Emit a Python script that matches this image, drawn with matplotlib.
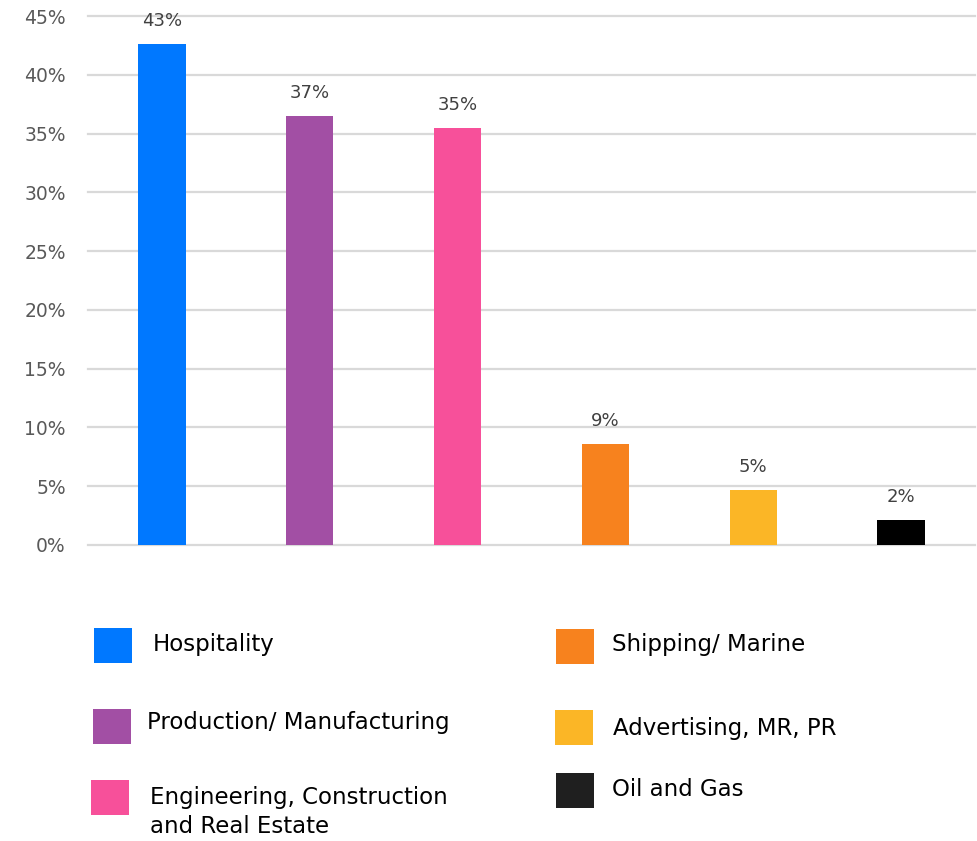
import matplotlib
matplotlib.use("Agg")
import matplotlib.pyplot as plt
from matplotlib.patches import Rectangle
from matplotlib.ticker import FuncFormatter

categories = ["Hospitality", "Production/ Manufacturing", "Engineering, Construction\nand Real Estate",
              "Shipping/ Marine", "Advertising, MR, PR", "Oil and Gas"]
values = [42.6, 36.5, 35.5, 8.6, 4.7, 2.1]
value_labels = ["43%", "37%", "35%", "9%", "5%", "2%"]
colors = ["#0078FF", "#A24FA4", "#F7509A", "#F7821E", "#FBB626", "#000000"]
legend_colors = ["#0078FF", "#A24FA4", "#F7509A", "#F7821E", "#FBB626", "#1F1F1F"]
yticks = [0, 5, 10, 15, 20, 25, 30, 35, 40, 45]

W, H = 977, 841
plt.rcParams['font.family'] = ['DejaVu Sans']
fig = plt.figure(figsize=(W / 100, H / 100), dpi=100)
ax = fig.add_axes([88 / W, (H - 545) / H, 887 / W, 529 / H])

x = list(range(len(categories)))
ax.bar(x, values, width=0.32, color=colors, zorder=3)
for xi, v, lab in zip(x, values, value_labels):
    ax.annotate(lab, (xi, v), xytext=(0, 10), textcoords="offset points",
                ha="center", va="bottom", fontsize=13, color="#404040")

ax.set_xlim(-0.5, len(categories) - 0.5)
ax.set_ylim(0, 45)
ax.set_yticks(yticks)
ax.yaxis.set_major_formatter(FuncFormatter(lambda v, p: f"{v:.0f}%"))
ax.tick_params(axis="y", length=0, labelsize=13.5, labelcolor="#595959", pad=16)
ax.set_xticks([])
ax.grid(axis="y", color="#D9D9D9", linewidth=1.6, zorder=0)
for gl in ax.get_ygridlines():
    gl.set_clip_on(False)
for s in ax.spines.values():
    s.set_visible(False)

# legend (manual, two columns)
sq = [(94, 628), (93, 709), (91, 780), (556, 629), (555, 710), (556, 773)]
txt = [(153, 645), (147, 723), (150, 812), (612, 645), (613, 728), (612, 790)]
for (sx, sy), (tx, ty), c, lab in zip(sq, txt, legend_colors, categories):
    fig.add_artist(Rectangle((sx / W, (H - sy - 35) / H), 38 / W, 35 / H,
                             transform=fig.transFigure, color=c, lw=0))
    fig.text(tx / W, (H - ty) / H, lab, ha="left", va="center", fontsize=16.5,
             color="#000000", linespacing=1.3)

fig.savefig("out.png", dpi=100, facecolor="white")
